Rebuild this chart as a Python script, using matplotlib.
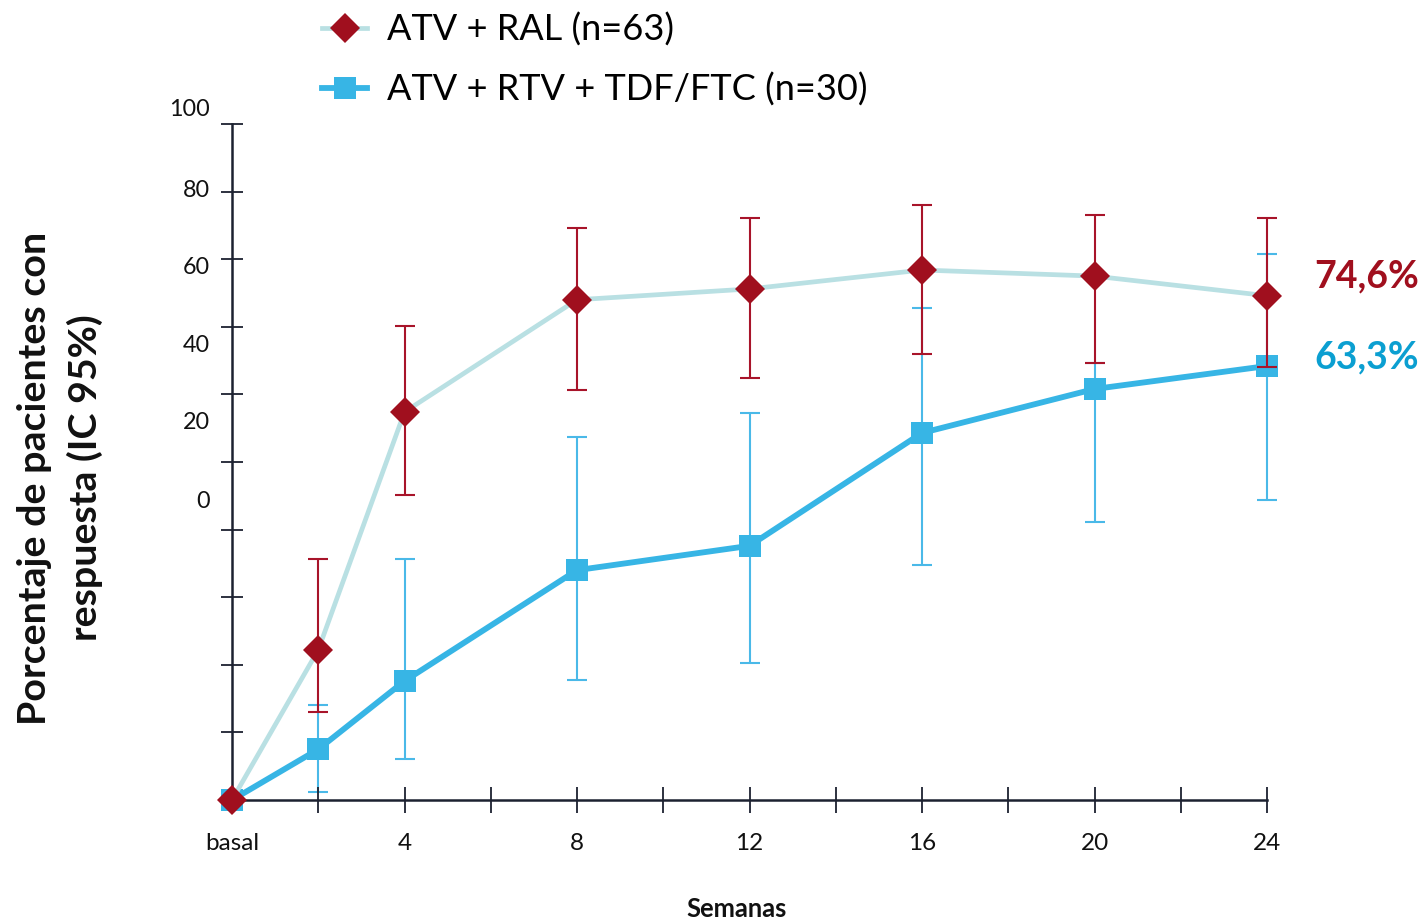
import numpy as np
import matplotlib
matplotlib.use("Agg")
import matplotlib.pyplot as plt

plt.rcParams['font.family'] = ['Lato', 'DejaVu Sans']

# datos
semanas = np.array([0, 2, 4, 8, 12, 16, 20, 24])
xtick_semanas = np.arange(0, 25, 2)
xtick_etiquetas = ["basal", "", "4", "", "8", "", "12", "", "16", "", "20", "", "24"]

ral = np.array([0, 22.2, 57.4, 74.0, 75.6, 78.4, 77.5, 74.6])
ral_lo = np.array([0, 13.0, 45.1, 60.7, 62.4, 66.0, 64.6, 64.1])
ral_hi = np.array([0, 35.7, 70.1, 84.6, 86.1, 88.0, 86.5, 86.1])

rtv = np.array([0, 7.5, 17.6, 34.0, 37.6, 54.3, 60.8, 64.2])
rtv_lo = np.array([0, 1.2, 6.1, 17.8, 20.3, 34.8, 41.1, 44.4])
rtv_hi = np.array([0, 14.1, 35.7, 53.7, 57.2, 72.8, 64.6, 80.8])

# etiquetas del eje y (desplazadas como en el original)
ytick_etiquetas = ["100", "80", "60", "40", "20", "0"]
ytick_pos_etiq = [102.1, 90.2, 78.8, 67.3, 55.8, 44.1]

rojo = "#a00f1e"
rojo_err = "#a8142a"
celeste = "#b9e0e3"
azul = "#37b5e5"
azul_err = "#4ab9e8"
azul_txt = "#0b9fd1"
eje = "#1c2130"

fig = plt.figure(figsize=(14.28, 9.22), dpi=100)
ax = fig.add_axes([232/1428, 122/922, 1035/1428, 676/922])

# barras de error
ax.errorbar(semanas[1:], rtv[1:], yerr=[rtv[1:]-rtv_lo[1:], rtv_hi[1:]-rtv[1:]], fmt='none',
            ecolor=azul_err, elinewidth=1.5, capsize=7, capthick=1.5, zorder=1, clip_on=False)
l2, = ax.plot(semanas, rtv, color=azul, lw=4.2, marker='s', ms=16, mfc=azul, mec=azul, mew=0,
              zorder=2, clip_on=False, label="ATV + RTV + TDF/FTC (n=30)")
ax.errorbar(semanas[1:], ral[1:], yerr=[ral[1:]-ral_lo[1:], ral_hi[1:]-ral[1:]], fmt='none',
            ecolor=rojo_err, elinewidth=1.5, capsize=7, capthick=1.5, zorder=3, clip_on=False)
l1, = ax.plot(semanas, ral, color=celeste, lw=3.4, marker='D', ms=15.5, mfc=rojo, mec=rojo, mew=0,
              zorder=4, clip_on=False, label="ATV + RAL (n=63)")

ax.set_xlim(0, 24)
ax.set_ylim(0, 100)
for s in ["top", "right"]:
    ax.spines[s].set_visible(False)
for s in ["left", "bottom"]:
    ax.spines[s].set_color(eje)
    ax.spines[s].set_linewidth(1.8)

ax.set_xticks(xtick_semanas)
ax.set_xticklabels(xtick_etiquetas, fontsize=17.5, color="#111111")
ax.tick_params(axis='x', direction='inout', length=18.5, width=1.3, color=eje, pad=14.5)
ax.set_yticks(np.arange(0, 101, 10))
ax.set_yticklabels([])
ax.tick_params(axis='y', direction='inout', length=16.5, width=1.3, color=eje)

for lab, pos in zip(ytick_etiquetas, ytick_pos_etiq):
    ax.text(-0.0213, pos, lab, transform=ax.get_yaxis_transform(), ha='right', va='center',
            fontsize=16.8, color="#111111")

# valores finales
ax.text(1.046, 77.5, "74,6%", transform=ax.get_yaxis_transform(), ha='left', va='center',
        fontsize=27, fontweight='bold', color=rojo)
ax.text(1.046, 65.5, "63,3%", transform=ax.get_yaxis_transform(), ha='left', va='center',
        fontsize=27, fontweight='bold', color=azul_txt)

leg = ax.legend(handles=[l1, l2], loc='upper left', bbox_to_anchor=(322/1428, 1-13/922),
                bbox_transform=fig.transFigure, frameon=False, fontsize=26, handlelength=1.25,
                handletextpad=0.55, labelspacing=0.7, borderpad=0, borderaxespad=0)

fig.text(60/1428, 1-478/922, "Porcentaje de pacientes con\nrespuesta (IC 95%)", rotation=90,
         ha='center', va='center', multialignment='center', fontsize=28.4, fontweight='bold',
         linespacing=1.49, color="#111111")
fig.text(737/1428, 1-909/922, "Semanas", ha='center', va='center', fontsize=18.4,
         fontweight='bold', color="#111111")

fig.savefig("out.png", dpi=100)
